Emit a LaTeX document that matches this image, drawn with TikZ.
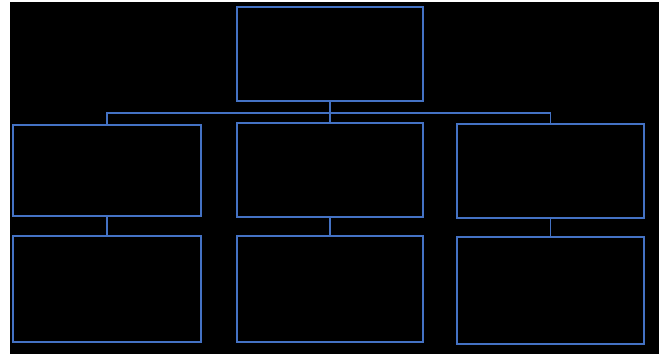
\documentclass[tikz,border=0pt]{standalone}
\begin{document}
\begin{tikzpicture}[x=1pt,y=-1pt]
\definecolor{boxblue}{RGB}{68,114,196}
\tikzset{
  orgbox/.style={draw=boxblue, line width=1.5pt, rectangle, inner sep=0pt, outer sep=0pt},
  link/.style={draw=boxblue, line width=1.5pt}
}
\useasboundingbox (0,0) rectangle (659,354);
\fill[white] (0,0) rectangle (659,354);
\fill[black] (10,2) rectangle (659,354);
\node[orgbox, minimum width=186pt, minimum height=94pt] (top) at (330,54) {};
\node[orgbox, minimum width=188pt, minimum height=91pt] (L1) at (107,170.5) {};
\node[orgbox, minimum width=186pt, minimum height=94pt] (C1) at (330,170) {};
\node[orgbox, minimum width=187pt, minimum height=94pt] (R1) at (550.5,171) {};
\node[orgbox, minimum width=188pt, minimum height=106pt] (L2) at (107,289) {};
\node[orgbox, minimum width=186pt, minimum height=106pt] (C2) at (330,289) {};
\node[orgbox, minimum width=187pt, minimum height=107pt] (R2) at (550.5,290.5) {};
\coordinate (busL) at (107,113);
\coordinate (busR) at (550.5,113);
\draw[link] (L1.north) -- (busL) -- (busR) -- (R1.north);
\draw[link] (top.south) -- (C1.north);
\draw[link] (L1.south) -- (L2.north);
\draw[link] (C1.south) -- (C2.north);
\draw[link] (R1.south) -- (R2.north);
\end{tikzpicture}
\end{document}
